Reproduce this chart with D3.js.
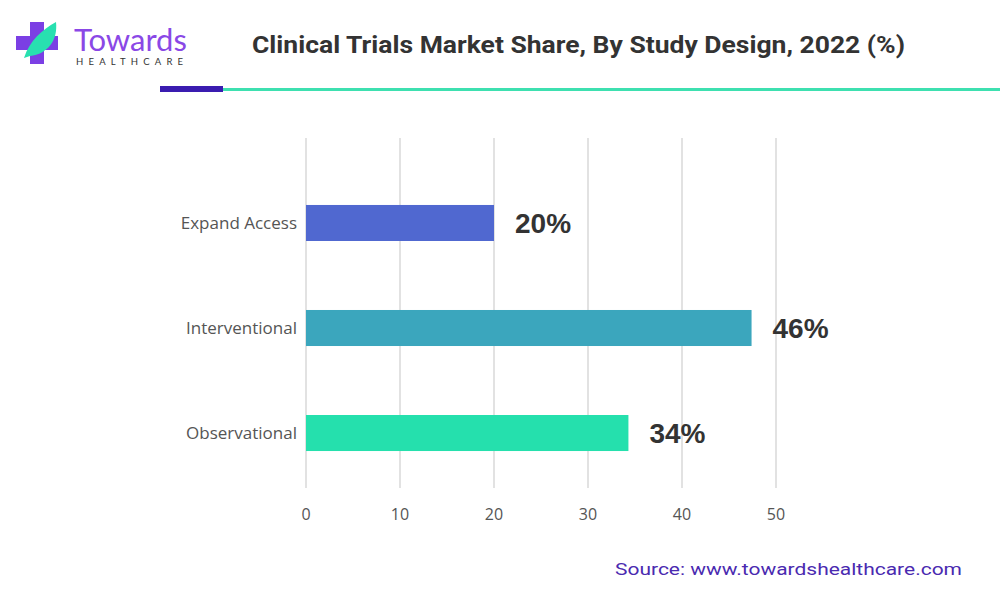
<!DOCTYPE html>
<html><head><meta charset="utf-8">
<script src="https://cdn.jsdelivr.net/npm/d3@7"></script>
<style>body{margin:0;background:#fff}</style></head>
<body><svg id="c" width="1000" height="593"></svg>
<script>
const categories = ["Expand Access","Interventional","Observational"];
const values = [20, 47.4, 34.3];
const valueLabels = ["20%","46%","34%"];
const colors = ["#5068d0","#3ba6bd","#25e0ad"];
const ticks = [0,10,20,30,40,50];

const svg = d3.select("#c");
const lg = svg.append("g");
lg.append("path").attr("d","M30 22h14v14h14v14H44v14H30V50H16V36h14z").attr("fill","#7b3fe4");
lg.append("path").attr("d","M24 58 C30 40 42 30 56 22 C58 40 48 54 30 56 Z").attr("fill","#28e0b0");
svg.append("text").attr("x",74).attr("y",51).attr("font-family","Lato, sans-serif").attr("font-size",31).attr("fill","#8a48e6").text("Towards");
svg.append("text").attr("x",76).attr("y",65).attr("font-family","Lato, sans-serif").attr("font-size",9.5).attr("letter-spacing",5.2).attr("fill","#333").text("HEALTHCARE");
svg.append("text").attr("x",252).attr("y",53).attr("textLength",653).attr("lengthAdjust","spacingAndGlyphs").attr("font-family","Roboto, sans-serif").attr("font-weight","bold").attr("font-size",24).attr("fill","#333").text("Clinical Trials Market Share, By Study Design, 2022 (%)");
svg.append("rect").attr("x",160).attr("y",86).attr("width",63).attr("height",6).attr("fill","#3a1cb0");
svg.append("rect").attr("x",223).attr("y",88).attr("width",777).attr("height",3).attr("fill","#3ee0b0");

const x = d3.scaleLinear().domain([0,50]).range([306,776]);
const y = d3.scaleBand().domain(categories).range([170,486]).paddingInner(0.657).paddingOuter(0.333);
const g = svg.append("g");
g.selectAll(".grid").data(ticks).join("line").attr("x1",d=>x(d)).attr("x2",d=>x(d)).attr("y1",138).attr("y2",488).attr("stroke","#d9d9d9").attr("stroke-width",1.5);
g.selectAll(".tk").data(ticks).join("text").attr("x",d=>x(d)).attr("y",520).attr("text-anchor","middle").attr("font-family","Open Sans, sans-serif").attr("font-size",16).attr("fill","#555").text(d=>d);
g.selectAll(".bar").data(categories).join("rect").attr("x",x(0)).attr("y",d=>y(d)).attr("width",(d,i)=>x(values[i])-x(0)).attr("height",y.bandwidth()).attr("fill",(d,i)=>colors[i]);
g.selectAll(".cat").data(categories).join("text").attr("x",297).attr("y",d=>y(d)+y.bandwidth()/2+6).attr("text-anchor","end").attr("font-family","Open Sans, sans-serif").attr("font-size",17).attr("fill","#555").text(d=>d);
g.selectAll(".vl").data(categories).join("text").attr("x",(d,i)=>x(values[i])+21).attr("y",d=>y(d)+y.bandwidth()/2+10).attr("font-family","Liberation Sans, Arial, sans-serif").attr("font-weight","bold").attr("font-size",28).attr("fill","#333").text((d,i)=>valueLabels[i]);
svg.append("text").attr("x",615).attr("y",575).attr("textLength",347).attr("lengthAdjust","spacingAndGlyphs").attr("font-family","Roboto, sans-serif").attr("font-size",17).attr("fill","#4a2ab0").text("Source: www.towardshealthcare.com");
</script></body></html>
